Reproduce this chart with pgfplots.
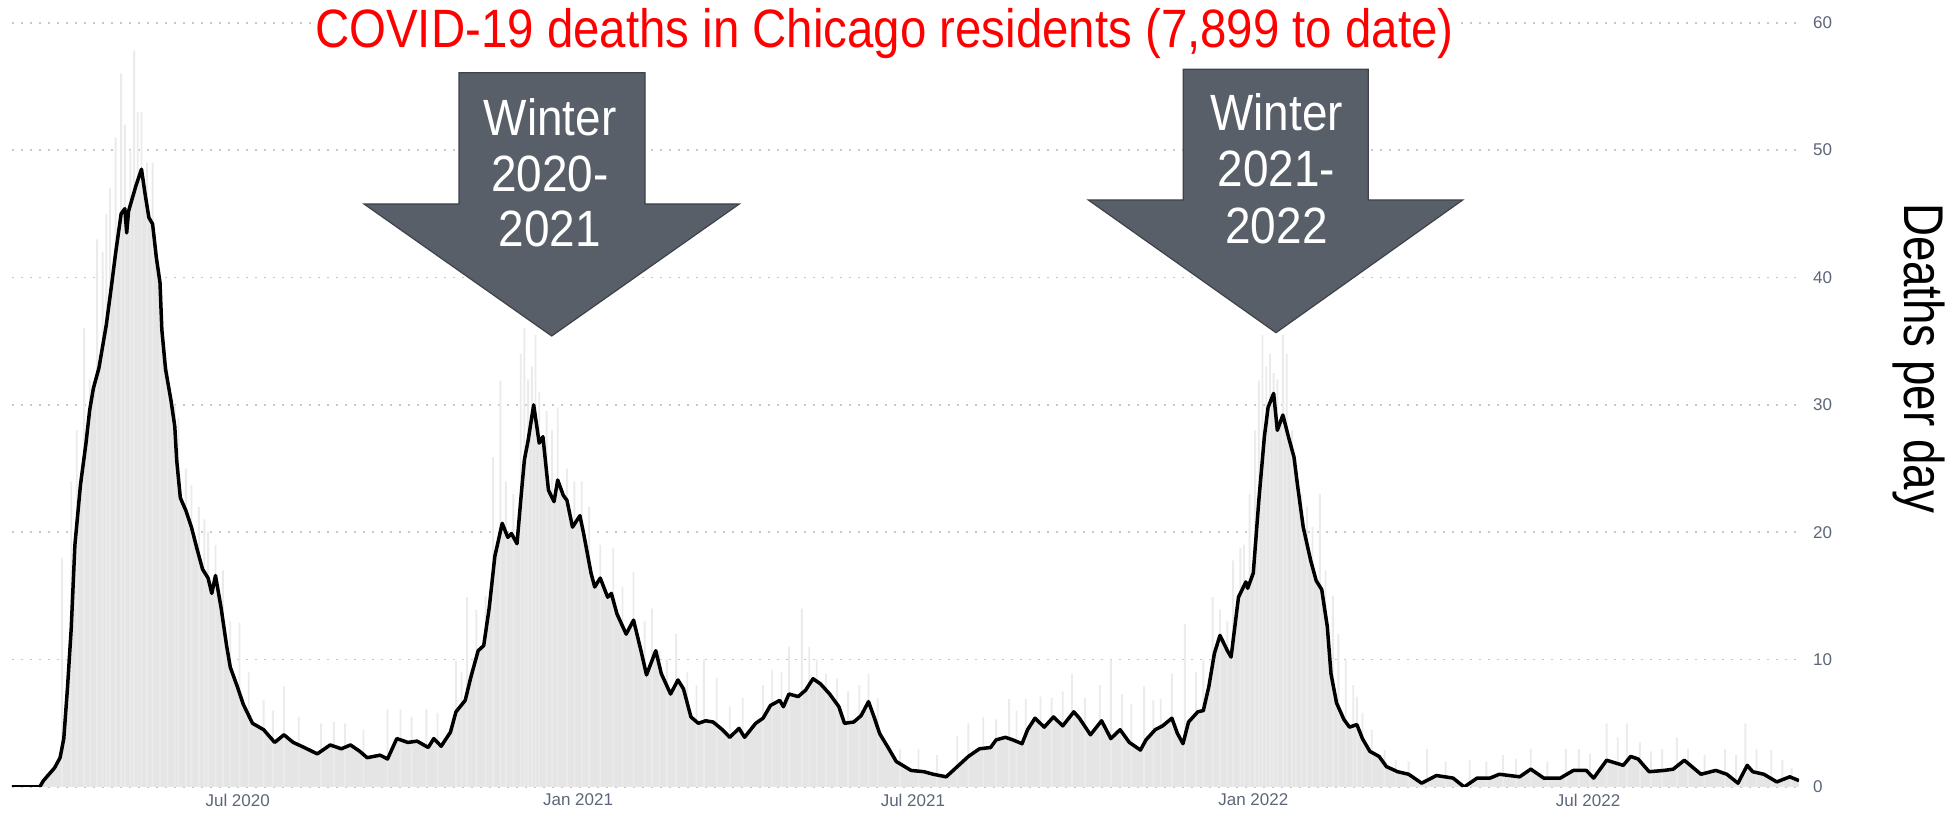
\documentclass[border=0pt]{standalone}
\usepackage{fontspec}
\setmainfont{Liberation Sans}
\usepackage{graphicx}
\usepackage{pgfplots}
\usepackage{pgfplotstable}
\pgfplotsset{compat=1.18}

\definecolor{tickcol}{RGB}{92,102,120}
\definecolor{arrowfill}{RGB}{89,95,105}
\definecolor{arrowdraw}{RGB}{62,66,74}
\definecolor{gridcol}{RGB}{200,200,200}

% 7-day average, day number counted from 1 Jan 2020
\pgfplotstableread{
d v
60 0
75 0
77 0.5
83 1.5
86 2.3
88 3.8
90 7.8
92 12.4
94 19
97 23.7
100 27
102 29.6
104 31.3
107 32.9
109 34.6
111 36.3
114 39.6
116 41.9
119 45
121 45.4
122 43.5
123 45.2
125 46.2
127 47.2
130 48.5
132 46.5
134 44.7
136 44.2
138 41.6
140 39.6
141 35.9
143 32.8
146 30.3
148 28.3
149 25.7
151 22.7
154 21.7
157 20.4
160 18.7
163 17.1
166 16.4
168 15.2
170 16.6
173 14.1
176 11.1
178 9.4
182 7.8
185 6.5
190 5.0
196 4.5
202 3.5
207 4.1
212 3.5
218 3.1
225 2.6
232 3.3
238 3.0
243 3.3
248 2.8
252 2.3
259 2.5
263 2.2
268 3.8
274 3.5
279 3.6
285 3.1
288 3.8
292 3.2
297 4.3
300 5.9
305 6.8
308 8.6
312 10.7
315 11.1
318 14.1
321 18.1
325 20.7
328 19.6
330 19.9
333 19.1
335 22.5
337 25.7
339 27.2
342 30.0
345 27.0
347 27.5
350 23.3
353 22.4
355 24.1
358 22.9
360 22.5
363 20.4
367 21.3
369 19.9
373 16.8
375 15.7
378 16.4
382 14.9
384 15.2
387 13.6
392 12.0
396 13.1
400 10.7
403 8.8
408 10.7
411 8.9
416 7.3
420 8.4
423 7.7
427 5.5
431 5.0
435 5.2
439 5.1
444 4.5
448 3.9
453 4.6
456 3.9
462 5.0
466 5.4
470 6.4
475 6.8
477 6.3
480 7.3
485 7.1
489 7.6
493 8.5
497 8.1
502 7.3
507 6.3
510 5.0
515 5.1
519 5.6
523 6.7
526 5.5
529 4.2
534 3.0
538 2.0
546 1.3
553 1.2
558 1.0
565 0.8
571 1.6
577 2.4
583 3.0
589 3.1
592 3.7
597 3.9
601 3.7
606 3.4
609 4.5
613 5.4
618 4.7
623 5.5
628 4.8
634 5.9
637 5.4
643 4.1
649 5.2
654 3.8
659 4.5
664 3.5
670 2.9
673 3.7
678 4.5
682 4.8
687 5.4
690 4.2
693 3.4
696 5.1
701 5.9
704 6.0
707 7.9
710 10.5
713 11.9
717 10.7
719 10.2
723 14.9
727 16.1
728 15.6
731 16.8
734 22.5
737 27.5
739 29.8
742 30.9
744 28.0
747 29.2
750 27.5
753 25.9
755 23.6
758 20.4
762 17.8
765 16.2
768 15.5
771 12.6
773 8.9
776 6.6
780 5.3
783 4.7
787 4.9
790 3.8
794 2.8
799 2.4
803 1.6
809 1.2
815 1.0
822 0.3
830 0.9
839 0.7
845 0.0
852 0.7
859 0.7
864 1.0
875 0.8
881 1.4
888 0.7
897 0.7
904 1.3
911 1.3
915 0.7
922 2.1
931 1.7
935 2.4
939 2.2
945 1.2
953 1.3
958 1.4
964 2.1
973 1.0
981 1.3
987 1.0
993 0.3
998 1.7
1001 1.2
1007 1.0
1014 0.4
1021 0.8
1026 0.5
}\avg

% daily counts that stand above the average
\pgfplotstableread{
d v
87 18
92 24
95 28
99 36
102 32
106 43
109 42
111 45
113 47
116 51
119 56
121 52
124 50
126 57.8
128 53
130 53
133 49
136 49
140 38
144 33
148 30
150 29
154 25
157 23.7
161 22
164 21
166 20
170 19
174 17
178 13
183 12.9
188 9
196 6.8
201 6
207 7.9
215 5.5
227 5
234 5.1
240 5
250 4.5
263 6.1
270 6.1
276 5.5
284 6.1
290 5.8
300 9.9
303 9
306 14.9
311 13.9
316 15
320 25.9
324 31.9
327 24
331 23
335 34
337 36
339 32
341 33
343 35.5
345 31
349 29.5
352 28
355 29.8
360 25
364 24
368 24
372 22
378 19
385 18.8
390 15.7
396 16.9
402 13
406 14
410 10.7
414 10
419 12
425 9
430 8
434 10
441 8.6
448 6.3
455 7
466 8
471 9.2
476 9
480 11
487 14
491 11
495 10
500 8.9
506 8.5
512 7.5
518 8
523 8.9
528 7
540 3
550 3
560 2.5
571 4
577 5
585 5.5
592 5.3
599 6.9
603 6
608 6.9
616 7.1
622 7
628 7.5
633 8.9
640 7
648 8
654 10
660 7.3
665 6.5
672 7.9
677 6.8
681 6.9
687 8.9
694 12.8
700 9
704 10
709 14.9
713 13.9
717 13
720 17.8
724 18.8
726 19
729 23
732 28
734 31.9
736 35.5
738 33
740 34
742 32.5
744 32
747 35.5
749 34
752 28
754 25.7
757 23
760 22
763 20.4
767 23
770 17
774 15
777 12
781 10
785 8
787 7.1
790 5.8
795 4.5
802 2.9
808 2.1
815 2
825 3
835 2
848 2.1
857 2
866 2.5
873 2.2
881 3
890 2
900 3
907 3
913 2.6
922 5
928 3.9
933 5
940 3.5
946 2.8
952 3
960 3.9
966 3
975 2.5
986 3
992 2.5
997 5
1003 3
1011 2.9
1017 2.1
1022 1.5
}\daily

\begin{document}
\begin{tikzpicture}
\path[use as bounding box] (-6pt,-13pt) rectangle (971pt,393.5pt);
\begin{axis}[
    at={(0,0)}, anchor=south west,
    scale only axis,
    width=893.5pt, height=382.15pt,
    xmin=60, xmax=1026, ymin=0, ymax=60,
    axis line style={draw=none},
    major tick length=0pt,
    tick style={draw=none},
    xtick={182,366,547,731,912},
    xticklabels={Jul 2020,Jan 2021,Jul 2021,Jan 2022,Jul 2022},
    ytick={0,10,...,60},
    yticklabel pos=right,
    yticklabel style={xshift=3.5pt},
    ymajorgrids,
    grid style={gridcol, line width=0.8pt, dash pattern=on 0.8pt off 3.7pt},
    tick label style={font=\fontsize{8.5}{10}\selectfont, text=tickcol},
    /pgf/number format/assume math mode=true,
]
\addplot[draw=none, fill=gray!20] table[x=d, y=v] {\avg} \closedcycle;
\addplot[ybar, bar width=0.93pt, bar shift=0pt, draw=none, fill=gray!16] table[x=d, y=v] {\daily};
\addplot[black, line width=1.75pt, line join=round] table[x=d, y=v] {\avg};
\end{axis}

% title
\node[fill=white, inner sep=1.5pt, anchor=base, text=red] at (436.25pt,369.5pt)
    {\scalebox{0.878}[1]{\fontsize{27}{32}\selectfont COVID-19 deaths in Chicago residents (7,899 to date)}};

% right label
\node[rotate=-90, anchor=center] at (953.5pt,214.5pt)
    {\scalebox{0.816}[1]{\fontsize{28}{32}\selectfont Deaths per day}};

% arrows
\draw[arrowdraw, fill=arrowfill, line width=0.6pt]
    (223.5pt,357.15pt) -- (316.5pt,357.15pt) -- (316.5pt,291.5pt) -- (363.65pt,291.5pt)
    -- (269.85pt,225.5pt) -- (176pt,291.5pt) -- (223.5pt,291.5pt) -- cycle;
\draw[arrowdraw, fill=arrowfill, line width=0.6pt]
    (585.65pt,358.85pt) -- (678.15pt,358.85pt) -- (678.15pt,293.5pt) -- (725.35pt,293.5pt)
    -- (632pt,227.15pt) -- (538.15pt,293.5pt) -- (585.65pt,293.5pt) -- cycle;

\begin{scope}[every node/.style={text=white, anchor=base, inner sep=0pt,
    font=\fontsize{25.5}{30}\selectfont}]
\node at (269pt,325.85pt) {\scalebox{0.9}[1]{Winter}};
\node at (269pt,297.5pt) {\scalebox{0.9}[1]{2020-}};
\node at (269pt,270pt) {\scalebox{0.9}[1]{2021}};
\node at (632.25pt,328.35pt) {\scalebox{0.9}[1]{Winter}};
\node at (632.25pt,300pt) {\scalebox{0.9}[1]{2021-}};
\node at (632.25pt,271.65pt) {\scalebox{0.9}[1]{2022}};
\end{scope}
\end{tikzpicture}
\end{document}
